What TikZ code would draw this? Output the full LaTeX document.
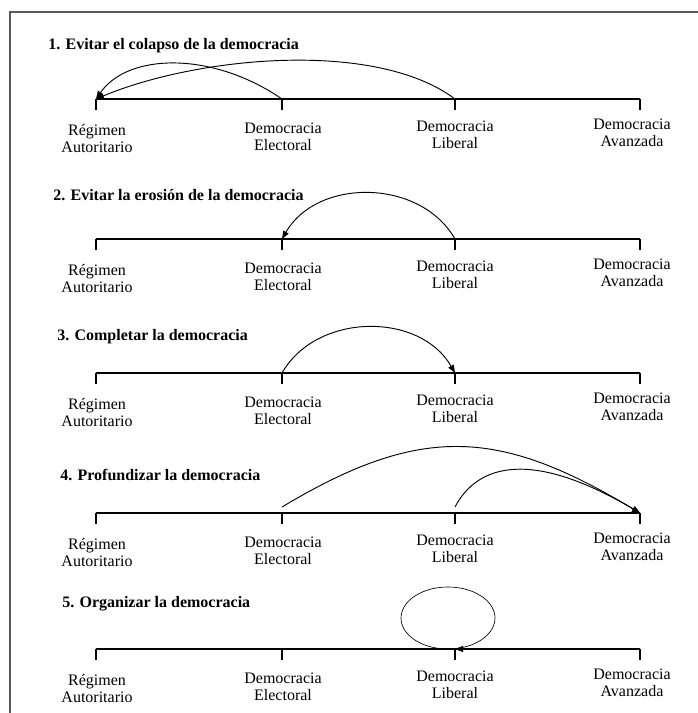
\documentclass[tikz,border=0pt]{standalone}
\usepackage{fontspec}
\setmainfont{Liberation Serif}
\usetikzlibrary{arrows.meta}

\tikzset{
  etapa/.style={align=center, inner sep=0pt, font=\fontsize{12}{12.75}\selectfont},
  titulo/.style={anchor=base west, inner sep=0pt, font=\fontsize{12}{12.75}\selectfont\bfseries},
  eje/.style={line width=1.1pt},
  arco/.style={line width=0.7pt, -{Triangle[length=6pt,width=4.5pt]}},
}

\begin{document}
\begin{tikzpicture}[x=0.75pt, y=-0.75pt]
  \useasboundingbox (0,0) rectangle (698,713);
  \draw[line width=1.3pt, black!65] (10,713) |- (698,12);

  % the four stages, once per case
  \foreach \n/\y in {1/99, 2/239, 3/373, 4/513, 5/649} {
    \coordinate (r\n) at (96,\y);
    \coordinate (e\n) at (282,\y);
    \coordinate (l\n) at (455,\y);
    \coordinate (a\n) at (640,\y);
    \draw[eje] (r\n) -- (a\n);
    \foreach \p in {r,e,l,a} \draw[eje] (\p\n) -- ++(0,11);
    \node[etapa] (lr\n) at (97,{\y+40}) {Régimen\\Autoritario};
    \node[etapa] (le\n) at (283,{\y+38}) {Democracia\\Electoral};
    \node[etapa] (ll\n) at (455,{\y+36}) {Democracia\\Liberal};
    \node[etapa] (la\n) at (632,{\y+34}) {Democracia\\Avanzada};
  }

  \node[titulo] (t1) at (48,50) {1. Evitar el colapso de la democracia};
  \node[titulo] (t2) at (53,200) {2. Evitar la erosión de la democracia};
  \node[titulo] (t3) at (57,340) {3. Completar la democracia};
  \node[titulo] (t4) at (60,480) {4. Profundizar la democracia};
  \node[titulo] (t5) at (62,607) {5. Organizar la democracia};

  % 1
  \draw[arco] (e1) .. controls +(-70,-48) and +(32,-46) .. (r1);
  \draw[arco] (l1) .. controls +(-80,-60) and +(100,-42) .. (r1);
  % 2
  \draw[arco] (l2) .. controls +(-35,-61) and +(35,-61) .. (e2);
  % 3
  \draw[arco] (e3) .. controls +(35,-61) and +(-35,-61) .. (l3);
  % 4
  \coordinate (e4s) at (282,507);
  \coordinate (l4s) at (455,507);
  \draw[arco] (e4s) .. controls +(140,-84) and +(-140,-84) .. (a4);
  \draw[arco] (l4s) .. controls +(22,-42) and +(-110,-65) .. (a4);
  % 5
  \coordinate (bucle) at (448,618);
  \draw[line width=0.5pt] (bucle) ellipse [x radius=47, y radius=31];
  \draw[arco] (a5) -- (l5);
\end{tikzpicture}
\end{document}
